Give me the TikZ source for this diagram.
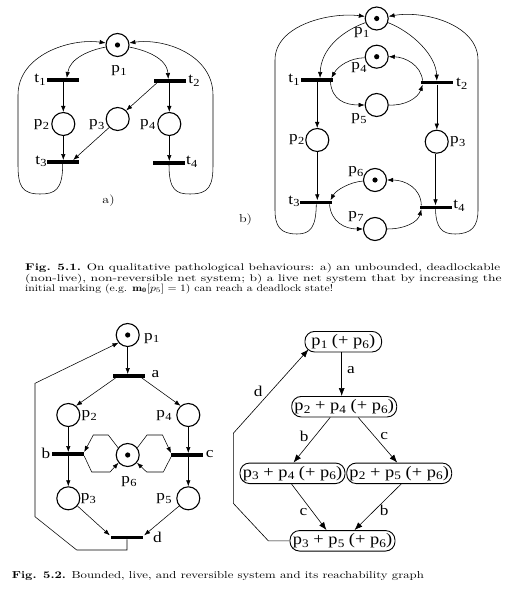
\documentclass[tikz,border=0pt]{standalone}
\usepackage{fontspec}
\usepackage{graphicx}
\usetikzlibrary{arrows.meta}
\newfontfamily\labf[FakeStretch=1.15]{Liberation Serif}
\newcommand\subx[1]{\kern.2pt\raisebox{-.38ex}{\scalebox{.72}{#1}}}
\newcommand\widen[1]{\scalebox{1.22}[1]{#1}}
\begin{document}
\begin{tikzpicture}[x=1pt,y=-1pt,
  place/.style={circle,draw,line width=1.1pt,minimum size=23pt,inner sep=0pt},
  trans/.style={rectangle,fill=black,minimum width=32pt,minimum height=3.6pt,inner sep=0pt},
  arc/.style={line width=0.55pt,-{Latex[length=6pt,width=4.5pt]}},
  lbl/.style={font=\labf\fontsize{15}{15}\selectfont,inner sep=0pt},
  capl/.style={font=\fontsize{11.5}{12}\selectfont,inner sep=0pt},
  capline/.style={anchor=base west,inner sep=0pt,font=\fontsize{10}{12}\selectfont},
  state/.style={draw,line width=0.9pt,rounded corners=9.5pt,minimum height=20.5pt,minimum width=105pt,inner sep=0pt,font=\labf\fontsize{16}{16}\selectfont},
  garc/.style={line width=0.6pt,-{Latex[length=8pt,width=6pt]}},
  glbl/.style={font=\labf\fontsize{15}{15}\selectfont,inner sep=0pt}]
\useasboundingbox (0,0) rectangle (508,599);
\fill[white] (0,0) rectangle (508,599);

% ---------- net a) ----------
\node[place] (a1) at (117.5,45) {};
\fill (a1) circle[radius=2.6pt];
\node[trans] (at1) at (63.3,80) {};
\node[trans] (at2) at (169.8,81) {};
\node[place] (a2) at (63.3,124) {};
\node[place] (a3) at (117.7,119) {};
\node[place] (a4) at (169.3,124) {};
\node[trans] (at3) at (62.7,162) {};
\node[trans] (at4) at (169,163) {};
\node[lbl] (la1) at (119,71) {p\subx{1}};
\node[lbl] (lt1) at (40,80) {t\subx{1}};
\node[lbl] (lt2) at (194,81) {t\subx{2}};
\node[lbl] (la2) at (41.5,124.5) {p\subx{2}};
\node[lbl] (la3) at (96.7,124.5) {p\subx{3}};
\node[lbl] (la4) at (147.7,124.5) {p\subx{4}};
\node[lbl] (lt3) at (41,161.5) {t\subx{3}};
\node[lbl] (lt4) at (191.7,162) {t\subx{4}};
\node[capl] (lA) at (108.5,201) {\widen{a)}};

\draw[arc] (a1.190) .. controls (90,50) and (70,58) .. ([xshift=3.5pt]at1.north);
\draw[arc] (a1.350) .. controls (145,50) and (167,58) .. ([xshift=-1.5pt]at2.north);
\draw[arc] (at1.south) -- (at1.south |- a2.north);
\draw[arc] (a4.north |- at2.south) -- (a4.north);
\draw[arc] ([xshift=-13pt]at2.south) -- (a3.45);
\draw[arc] (a2.south) -- (a2.south |- at3.north);
\draw[arc] (a3.225) -- ([xshift=10.5pt]at3.north);
\draw[arc] (a4.south) -- (a4.south |- at4.north);
\draw[arc] (at3.south) .. controls (62.7,190) and (55,194) .. (40,194) .. controls (22,194) and (18,186) .. (18,165) -- (18,95) .. controls (18,55) and (70,38) .. (a1.170);
\draw[arc] (at4.south) .. controls (169,190) and (176,194) .. (190,194) .. controls (209,194) and (213,186) .. (213,165) -- (213,95) .. controls (213,55) and (165,38) .. (a1.10);

% ---------- net b) ----------
\node[place] (b1) at (376.7,18.5) {};
\fill (b1) circle[radius=2.6pt];
\node[place] (b4) at (376.7,56.7) {};
\fill (b4) circle[radius=2.6pt];
\node[trans] (bt1) at (317.2,80) {};
\node[trans] (bt2) at (436.8,82.7) {};
\node[place] (b5) at (376.7,105) {};
\node[place] (b2) at (317.3,140) {};
\node[place] (b3) at (436.7,141.7) {};
\node[place] (b6) at (375,180) {};
\fill (b6) circle[radius=2.6pt];
\node[trans] (bt3) at (316.3,202.3) {};
\node[trans] (bt4) at (435.5,207.3) {};
\node[place] (b7) at (375,229) {};
\node[lbl] (lb1) at (361.7,32.5) {p\subx{1}};
\node[lbl] (lb4) at (359,68) {p\subx{4}};
\node[lbl] (lbt1) at (294,80) {t\subx{1}};
\node[lbl] (lbt2) at (461.7,84) {t\subx{2}};
\node[lbl] (lb5) at (359,119) {p\subx{5}};
\node[lbl] (lb2) at (296.7,140) {p\subx{2}};
\node[lbl] (lb3) at (457.7,141.7) {p\subx{3}};
\node[lbl] (lb6) at (355.8,171.5) {p\subx{6}};
\node[lbl] (lbt3) at (294,201.5) {t\subx{3}};
\node[lbl] (lbt4) at (459,206) {t\subx{4}};
\node[lbl] (lb7) at (356,216.7) {p\subx{7}};
\node[capl] (lB) at (245.5,220) {\widen{b)}};

\draw[arc] (b1.200) .. controls (340,32) and (321,50) .. ([xshift=2.8pt]bt1.north);
\draw[arc] (b1.340) .. controls (412,32) and (436,55) .. (bt2.north);
\draw[arc] (bt1.south) -- (bt1.south |- b2.north);
\draw[arc] (bt2.south) -- (bt2.south |- b3.north);
\draw[arc] (b2.south) -- (b2.south |- bt3.north);
\draw[arc] (b3.south -| bt4) -- (bt4.north);
\draw[arc] (b4.185) .. controls (350,58) and (338,66) .. ([xshift=-2pt]bt1.north east);
\draw[arc] ([xshift=-3pt]bt1.south east) .. controls (332,100) and (345,105) .. (b5.west);
\draw[arc] (b5.east) .. controls (405,106) and (418,98) .. ([xshift=2pt]bt2.south west);
\draw[arc] ([xshift=2pt]bt2.north west) .. controls (421,65) and (405,57) .. (b4.east);
\draw[arc] (b6.185) .. controls (350,182) and (336,190) .. ([xshift=-2pt]bt3.north east);
\draw[arc] ([xshift=-3pt]bt3.south east) .. controls (331,222) and (345,229) .. (b7.west);
\draw[arc] (b7.east) .. controls (405,229) and (418,222) .. ([xshift=2pt]bt4.south west);
\draw[arc] ([xshift=2pt]bt4.north west) .. controls (421,188) and (405,180) .. (b6.east);
\draw[arc] (bt3.south) .. controls (316,228) and (310,234) .. (297,234) .. controls (280,234) and (275,226) .. (275,210) -- (275,60) .. controls (275,25) and (330,12) .. (b1.170);
\draw[arc] (bt4.south) .. controls (436,228) and (442,234) .. (455,234) .. controls (472,234) and (478,226) .. (478,210) -- (478,60) .. controls (478,25) and (425,10) .. (b1.10);

% ---------- caption 5.1 ----------
\node[capline] (cap1a) at (25,270.5) {\resizebox{475pt}{7.3pt}{\textbf{Fig. 5.1.} On qualitative pathological behaviours: a) an unbounded, deadlockable}};
\node[capline] (cap1b) at (25,281) {\resizebox{476.5pt}{7.3pt}{(non-live), non-reversible net system; b) a live net system that by increasing the}};
\node[capline] (cap1c) at (25,291.5) {\resizebox{308pt}{7.3pt}{initial marking (e.g. $\mathbf{m}_{\mathbf{0}}[p_5] = 1$) can reach a deadlock state!}};

% ---------- net fig 5.2 ----------
\node[place] (c1) at (127.7,335) {};
\fill (c1) circle[radius=2.6pt];
\node[trans] (ca) at (128.7,376) {};
\node[place] (c2) at (68.3,415) {};
\node[place] (c4) at (188.3,415) {};
\node[trans] (cb) at (68,454) {};
\node[trans] (cc) at (187.2,455) {};
\node[place] (c6) at (127.7,455) {};
\fill (c6) circle[radius=2.6pt];
\node[place] (c3) at (68.3,498.3) {};
\node[place] (c5) at (188.3,498.3) {};
\node[trans] (cd) at (127,537.3) {};
\node[lbl] (lc1) at (151.7,338.3) {p\subx{1}};
\node[lbl] (lca) at (155.5,374) {a};
\node[lbl] (lc2) at (89.2,415.5) {p\subx{2}};
\node[lbl] (lc4) at (164,415.5) {p\subx{4}};
\node[lbl] (lcb) at (46,453) {b};
\node[lbl] (lcc) at (209.7,454.5) {c};
\node[lbl] (lc6) at (129,481.5) {p\subx{6}};
\node[lbl] (lc3) at (88.3,498.5) {p\subx{3}};
\node[lbl] (lc5) at (164,498.5) {p\subx{5}};
\node[lbl] (lcd) at (157.5,537) {d};

\draw[arc] (c1.south) -- (c1.south |- ca.north);
\draw[arc] ([xshift=3pt]ca.south west) -- (c2.50);
\draw[arc] ([xshift=-3pt]ca.south east) -- (c4.130);
\draw[arc] (c2.south) -- (c2.south |- cb.north);
\draw[arc] (c3.north |- cb.south) -- (c3.north);
\draw[arc] (c4.south) -- (c4.south |- cc.north);
\draw[arc] (c5.north |- cc.south) -- (c5.north);
\draw[arc] (c3.-40) -- ([xshift=-1pt]cd.north west);
\draw[arc] (c5.220) -- ([xshift=1pt]cd.north east);
\draw[arc] (cd.south) -- (cd.south |- 0,550) -- (76.7,550) -- (35,516.7) -- (35,383.3) -- (c1.220);
\draw[arc] (c6.143) -- (108.3,435) -- (93.3,435) -- (cb.north east);
\draw[arc] (cb.south east) -- (91.7,472) -- (110,472) -- (c6.220);
\draw[arc] (c6.37) -- (147,435) -- (162.5,435) -- (cc.north west);
\draw[arc] (cc.south west) -- (163.3,472) -- (146.7,472) -- (c6.-40);

% ---------- reachability graph ----------
\node[state,minimum width=76.7pt] (g1) at (343.3,341.7) {p\subx{1} (+ p\subx{6})};
\node[state] (g2) at (344.2,406.7) {p\subx{2} + p\subx{4} (+ p\subx{6})};
\node[state] (g3) at (292.5,473.3) {p\subx{3} + p\subx{4} (+ p\subx{6})};
\node[state] (g4) at (399.2,473.3) {p\subx{2} + p\subx{5} (+ p\subx{6})};
\node[state] (g5) at (342.5,540.8) {p\subx{3} + p\subx{5} (+ p\subx{6})};

\draw[garc] ([xshift=-1.6pt]g1.south) -- ([xshift=-1.6pt]g1.south |- g2.north) node[glbl,pos=.4,right=5pt] (ea) {a};
\draw[garc] ([xshift=-14pt]g2.south) -- ([xshift=1pt]g3.north) node[glbl,pos=.42,left=6pt] (eb1) {b};
\draw[garc] ([xshift=14pt]g2.south) -- ([xshift=-2pt]g4.north) node[glbl,pos=.42,right=5.5pt] (ec1) {c};
\draw[garc] ([xshift=-1pt]g3.south) -- ([xshift=-16pt]g5.north) node[glbl,pos=.6,left=5pt] (ec2) {c};
\draw[garc] ([xshift=2pt]g4.south) -- ([xshift=12pt]g5.north) node[glbl,pos=.57,right=5pt] (eb2) {b};
\draw[garc] (g5.west) -- (268.3,540.8) -- (233.3,503.3) -- (233.3,433.3) -- ([shift={(4pt,3pt)}]g1.south west) node[glbl,pos=.5,left=8pt] (ed) {d};

% ---------- caption 5.2 ----------
\node[capline] (cap2) at (11.7,578) {\resizebox{412pt}{7pt}{\textbf{Fig. 5.2.} Bounded, live, and reversible system and its reachability graph}};
\end{tikzpicture}
\end{document}
